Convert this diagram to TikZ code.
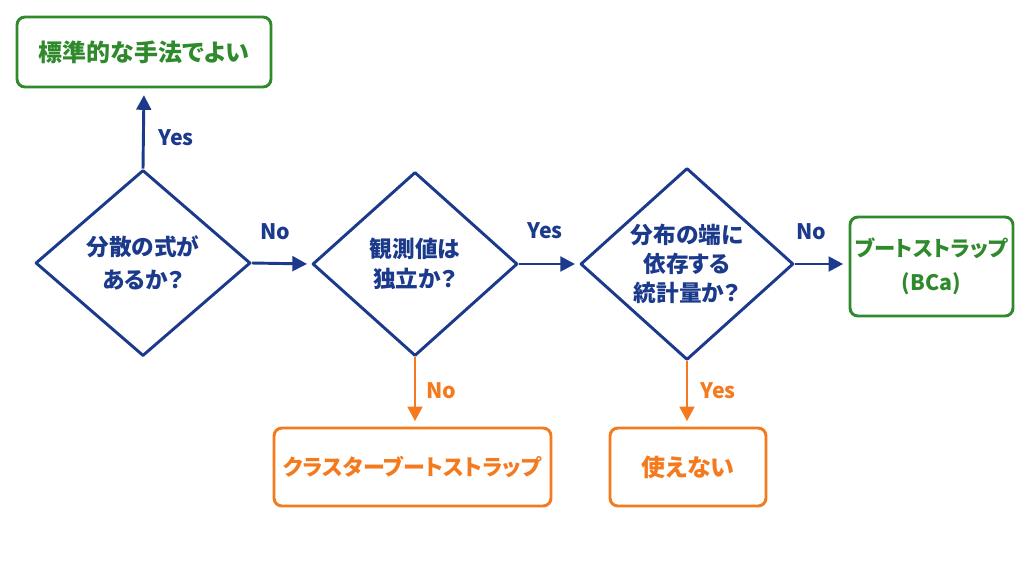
\documentclass[tikz,border=0pt]{standalone}
\usepackage{fontspec}
\setmainfont{Noto Sans CJK JP}[RawFeature=+palt]
\usetikzlibrary{shapes.geometric,arrows.meta}
\definecolor{navy}{HTML}{1B3A8C}
\definecolor{okgreen}{HTML}{2F8A2C}
\definecolor{warnorange}{HTML}{F57A1E}
\tikzset{
  decision/.style={diamond, draw=navy, line width=2.2pt, line join=round, inner sep=0pt, align=center, text=navy, font=\fontsize{17}{23}\selectfont\bfseries},
  goodbox/.style={rectangle, rounded corners=6pt, draw=okgreen, line width=2.2pt, align=center, text=okgreen, inner sep=0pt, font=\fontsize{16}{25.5}\selectfont\bfseries},
  badbox/.style={rectangle, rounded corners=6pt, draw=warnorange, line width=2.2pt, align=center, text=warnorange, inner sep=0pt, font=\fontsize{16.5}{24}\selectfont\bfseries},
  flow/.style={draw=navy, line width=2.2pt, -{Triangle[length=11pt,width=11pt]}},
  warnflow/.style={draw=warnorange, line width=2.2pt, -{Triangle[length=11pt,width=11pt]}},
  lbl/.style={text=navy, font=\fontsize{16}{18}\selectfont\bfseries},
  warnlbl/.style={text=warnorange, font=\fontsize{16}{18}\selectfont\bfseries},
}
\begin{document}
\begin{tikzpicture}[x=0.75pt,y=-0.75pt]
\useasboundingbox[fill=white] (0,0) rectangle (1024,561);
% nodes
\node[goodbox, minimum width=190.5pt, minimum height=52.5pt, font=\fontsize{18}{24}\selectfont\bfseries] (std) at (144,52) {標準的な手法でよい};
\node[decision, minimum width=161.25pt, minimum height=139.5pt, font=\fontsize{17}{24.5}\selectfont\bfseries] (d1) at (143,263) {分散の式が\\あるか？};
\node[decision, minimum width=153.75pt, minimum height=138pt] (d2) at (415,264) {観測値は\\独立か？};
\node[decision, minimum width=159.75pt, minimum height=141pt, font=\fontsize{17}{21.75}\selectfont\bfseries] (d3) at (687,264) {分布の端に\\依存する\\統計量か？};
\node[badbox, minimum width=207.75pt, minimum height=58.5pt] (cluster) at (412.5,467) {クラスターブートストラップ};
\node[badbox, minimum width=117pt, minimum height=58.5pt, font=\fontsize{18}{24}\selectfont\bfseries] (nouse) at (688,467) {使えない};
\node[goodbox, minimum width=122.25pt, minimum height=74.25pt] (bca) at (931.5,266.5) {ブートストラップ\\(BCa)};
% connectors
\draw[flow, shorten >=5pt] (d1.north) -- (std.south);
\draw[flow, shorten >=3pt] (d1.east) -- (d2.west);
\draw[flow, shorten >=3pt] (d2.east) -- (d3.west);
\draw[flow, shorten >=4pt] (d3.east) -- (d3.east -| bca.west);
\draw[warnflow, shorten >=4pt] (d2.south) -- (cluster.north -| d2.south);
\draw[warnflow, shorten >=4pt] (d3.south) -- (nouse.north -| d3.south);
% labels
\node[lbl] (l1) at (176,138) {Yes};
\node[lbl] (l2) at (275,232) {No};
\node[lbl] (l3) at (545,231) {Yes};
\node[lbl] (l4) at (811,232) {No};
\node[warnlbl] (l5) at (441,391) {No};
\node[warnlbl] (l6) at (718,391) {Yes};
\end{tikzpicture}
\end{document}
